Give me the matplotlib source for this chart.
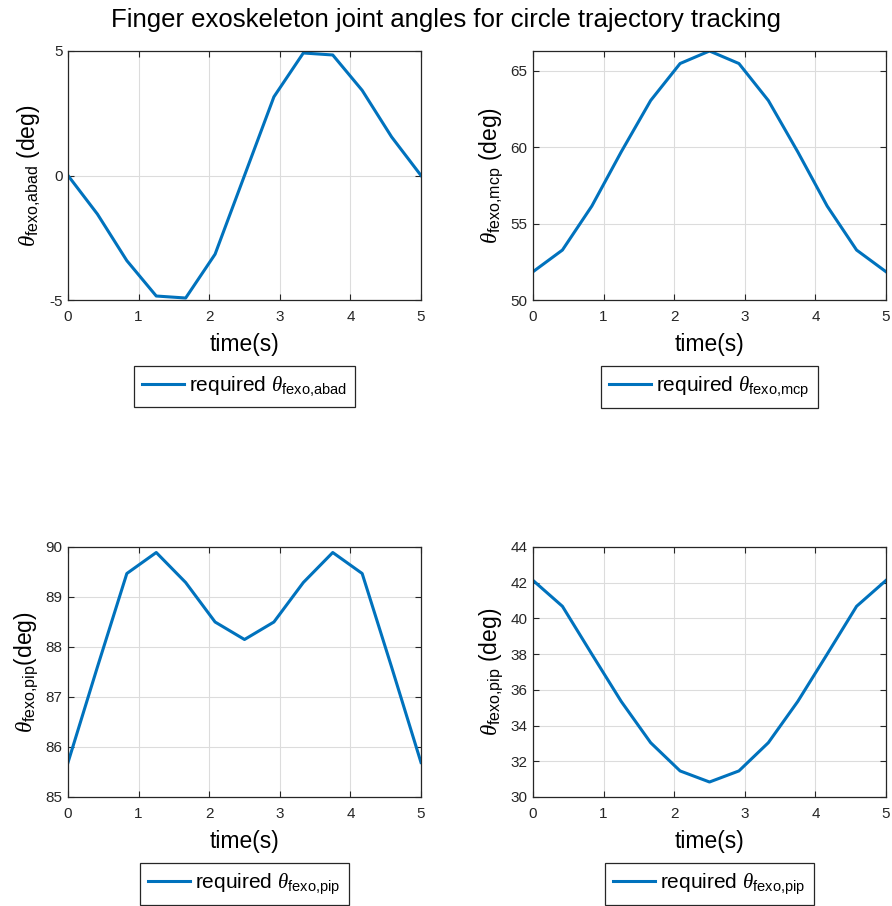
import numpy as np
import matplotlib
matplotlib.use("Agg")
import matplotlib.pyplot as plt

plt.rcParams['font.family'] = ['Liberation Sans', 'DejaVu Sans']
plt.rcParams['mathtext.fontset'] = 'custom'
plt.rcParams['mathtext.rm'] = 'Liberation Sans'
plt.rcParams['mathtext.it'] = 'Liberation Serif:italic'
plt.rcParams['mathtext.bf'] = 'Liberation Sans:bold'
plt.rcParams['axes.unicode_minus'] = False

# sample times (13 points over 5 s)
t = np.linspace(0, 5, 13)

theta_abad = [0, -1.55, -3.42, -4.84, -4.92, -3.16, 0, 3.16, 4.92, 4.84, 3.42, 1.55, 0]
theta_mcp = [51.85, 53.27, 56.15, 59.7, 63.06, 65.48, 66.3, 65.48, 63.06, 59.7, 56.15, 53.27, 51.85]
theta_pip1 = [85.69, 87.6, 89.47, 89.89, 89.29, 88.5, 88.15, 88.5, 89.29, 89.89, 89.47, 87.6, 85.69]
theta_pip2 = [42.13, 40.68, 38.0, 35.35, 33.04, 31.46, 30.84, 31.46, 33.04, 35.35, 38.0, 40.68, 42.13]

ylabels = [r'$\theta_{\mathrm{fexo{,}abad}}$ (deg)', r'$\theta_{\mathrm{fexo{,}mcp}}$ (deg)',
           r'$\theta_{\mathrm{fexo{,}pip}}$(deg)', r'$\theta_{\mathrm{fexo{,}pip}}$ (deg)']
legends = [r'required $\theta_{\mathrm{fexo{,}abad}}$', r'required $\theta_{\mathrm{fexo{,}mcp}}$',
           r'required $\theta_{\mathrm{fexo{,}pip}}$', r'required $\theta_{\mathrm{fexo{,}pip}}$']
ylims = [(-5, 5), (50, 66.3), (85, 90), (30, 44)]
yticks = [[-5, 0, 5], [50, 55, 60, 65], [85, 86, 87, 88, 89, 90], list(range(30, 45, 2))]
series = [theta_abad, theta_mcp, theta_pip1, theta_pip2]

fig = plt.figure(figsize=(8.92, 9.06), dpi=100)
W, H = 892, 906
boxes = [(68, 51, 421, 300), (533, 51, 886, 300), (68, 547, 421, 797), (533, 547, 886, 797)]
dark = '#262626'

for i, (x0, y0, x1, y1) in enumerate(boxes):
    ax = fig.add_axes([x0 / W, 1 - y1 / H, (x1 - x0) / W, (y1 - y0) / H])
    ax.plot(t, series[i], color='#0072BD', lw=2.2, label=legends[i])
    ax.set_xlim(0, 5)
    ax.set_ylim(*ylims[i])
    ax.set_xticks(range(6))
    ax.set_yticks(yticks[i])
    ax.grid(True, color='#dcdcdc', lw=0.8)
    ax.tick_params(direction='in', top=True, right=True, labelsize=11,
                   colors=dark, length=4, width=0.8, pad=4)
    ax.tick_params(axis='x', pad=7)
    for s in ax.spines.values():
        s.set_color(dark)
        s.set_linewidth(0.9)
    ax.set_xlabel('time(s)', fontsize=16.5, labelpad=7, color='black')
    ax.set_ylabel(ylabels[i], fontsize=16.5, labelpad=4, color='black')
    leg = ax.legend(loc='upper center', bbox_to_anchor=(0.5, -0.265), fontsize=15,
                    fancybox=False, edgecolor=dark, framealpha=1,
                    handlelength=2.0, handletextpad=0.25, borderpad=0.4,
                    borderaxespad=0)
    leg.get_frame().set_linewidth(0.9)

fig.text(0.5, 1 - 20 / H, 'Finger exoskeleton joint angles for circle trajectory tracking',
         ha='center', va='center', fontsize=18.5)

fig.savefig('out.png', dpi=100)
